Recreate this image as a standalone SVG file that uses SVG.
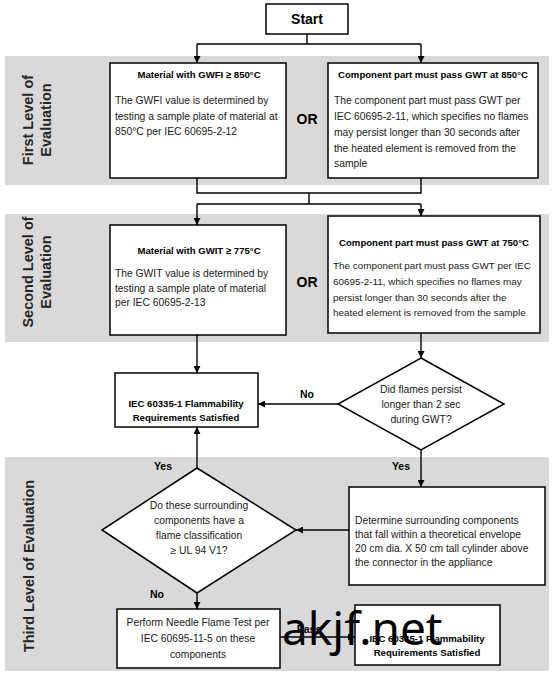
<svg xmlns="http://www.w3.org/2000/svg" width="554" height="674" viewBox="0 0 554 674">
<defs>
<marker id="ah" viewBox="0 0 10 10" refX="10" refY="5" markerWidth="7" markerHeight="7" markerUnits="userSpaceOnUse" orient="auto">
<path d="M0,0 L10,5 L0,10 z" fill="#000"/>
</marker>
<style>
.band{fill:#d9d9d9;}
.box{fill:#fff;stroke:#000;stroke-width:1.5;}
.t{font-family:"Liberation Sans",Arial,sans-serif;font-size:10.3px;fill:#1a1a1a;}
.s{font-size:9.9px;}
.b{font-family:"Liberation Sans",Arial,sans-serif;font-size:9.6px;font-weight:bold;fill:#000;}
.c{text-anchor:middle;}
.lbl{font-family:"Liberation Sans",Arial,sans-serif;font-size:14.5px;font-weight:bold;fill:#262626;text-anchor:middle;}
.or{font-family:"Liberation Sans",Arial,sans-serif;font-size:14px;font-weight:bold;fill:#000;text-anchor:middle;}
.yn{font-family:"Liberation Sans",Arial,sans-serif;font-size:10.5px;font-weight:bold;fill:#000;text-anchor:middle;}
.ln{fill:none;stroke:#000;stroke-width:1.4;}
.ar{fill:none;stroke:#000;stroke-width:1.4;marker-end:url(#ah);}
</style>
</defs>

<g id="bands">
<rect class="band" x="5" y="56" width="544" height="129"/>
<rect class="band" x="5" y="214" width="544" height="128"/>
<rect class="band" x="5" y="457" width="544" height="214"/>
<text class="lbl" transform="translate(33,120) rotate(-90)">First Level of</text>
<text class="lbl" transform="translate(51,120) rotate(-90)">Evaluation</text>
<text class="lbl" transform="translate(33,272) rotate(-90)">Second Level of</text>
<text class="lbl" transform="translate(51,272) rotate(-90)">Evaluation</text>
<text class="lbl" transform="translate(34,566) rotate(-90)">Third Level of Evaluation</text>
</g>

<g id="connectors">
<path class="ln" d="M307,33 V44 M197,44 H421"/>
<path class="ar" d="M197,44 V63"/>
<path class="ar" d="M421,44 V63"/>
<path class="ln" d="M197,178 V193 H421 V178 M309,193 V204 M197,204 H421"/>
<path class="ar" d="M197,204 V225"/>
<path class="ar" d="M421,204 V216"/>
<path class="ar" d="M197,335 V373"/>
<path class="ar" d="M421,333 V358"/>
<path class="ar" d="M338,404 H258"/>
<path class="ar" d="M421,450 V487"/>
<path class="ar" d="M349,530 H296"/>
<path class="ar" d="M197,468 V427"/>
<path class="ar" d="M197,593 V609"/>
<path class="ar" d="M280,637 H355"/>
<text class="yn" x="307" y="398">No</text>
<text class="yn" x="401" y="470">Yes</text>
<text class="yn" x="163" y="470">Yes</text>
<text class="yn" x="157" y="598">No</text>
<text class="yn" x="309" y="633">Pass</text>
</g>

<g id="start">
<rect class="box" x="266" y="4" width="82" height="30"/>
<text class="or" x="307" y="24">Start</text>
</g>

<g id="gwfi">
<rect class="box" x="110" y="63" width="176" height="115"/>
<text class="b c" x="199" y="78">Material with GWFI ≥ 850°C</text>
<text class="t" x="115" y="104">The GWFI value is determined by</text>
<text class="t" x="115" y="120">testing a sample plate of material at</text>
<text class="t" x="115" y="135">850°C per IEC 60695-2-12</text>
</g>

<text id="or1" class="or" x="307" y="124">OR</text>

<g id="gwt850">
<rect class="box" x="328" y="63" width="210" height="115"/>
<text class="b c" x="433" y="78">Component part must pass GWT at 850°C</text>
<text class="t" x="334" y="104">The component part must pass GWT per</text>
<text class="t" x="334" y="120">IEC 60695-2-11, which specifies no flames</text>
<text class="t" x="334" y="136">may persist longer than 30 seconds after</text>
<text class="t" x="334" y="152">the heated element is removed from the</text>
<text class="t" x="334" y="167">sample</text>
</g>

<g id="gwit">
<rect class="box" x="110" y="225" width="176" height="110"/>
<text class="b c" x="199" y="254">Material with GWIT ≥ 775°C</text>
<text class="t" x="115" y="277">The GWIT value is determined by</text>
<text class="t" x="115" y="292">testing a sample plate of material</text>
<text class="t" x="115" y="306">per IEC 60695-2-13</text>
</g>

<text id="or2" class="or" x="307" y="287">OR</text>

<g id="gwt750">
<rect class="box" x="328" y="216" width="212" height="117"/>
<text class="b c" x="434" y="246">Component part must pass GWT at 750°C</text>
<text class="t s" x="333" y="269">The component part must pass GWT per IEC</text>
<text class="t s" x="333" y="285">60695-2-11, which specifies no flames may</text>
<text class="t s" x="333" y="301">persist longer than 30 seconds after the</text>
<text class="t s" x="333" y="316">heated element is removed from the sample</text>
</g>

<g id="satisfied1">
<rect class="box" x="115" y="373" width="143" height="54"/>
<text class="b c" x="186" y="407">IEC 60335-1 Flammability</text>
<text class="b c" x="186" y="421">Requirements Satisfied</text>
</g>

<g id="flames">
<polygon class="box" points="421,358 504,404 421,450 338,404"/>
<text class="t c" x="421" y="393">Did flames persist</text>
<text class="t c" x="421" y="408">longer than 2 sec</text>
<text class="t c" x="421" y="423">during GWT?</text>
</g>

<g id="determine">
<rect class="box" x="349" y="487" width="196" height="98"/>
<text class="t" x="355" y="524">Determine surrounding components</text>
<text class="t" x="355" y="538">that fall within a theoretical envelope</text>
<text class="t" x="355" y="552">20 cm dia. X 50 cm tall cylinder above</text>
<text class="t" x="355" y="566">the connector in the appliance</text>
</g>

<g id="classification">
<polygon class="box" points="197,468 296,530 197,593 102,530"/>
<text class="t c" x="199" y="509">Do these surrounding</text>
<text class="t c" x="199" y="524">components have a</text>
<text class="t c" x="199" y="539">flame classification</text>
<text class="t c" x="199" y="554">≥  UL 94 V1?</text>
</g>

<g id="needle">
<rect class="box" x="117" y="609" width="163" height="59"/>
<text class="t c" x="198" y="626">Perform Needle Flame Test per</text>
<text class="t c" x="198" y="642">IEC 60695-11-5 on these</text>
<text class="t c" x="198" y="658">components</text>
</g>

<g id="satisfied2">
<rect class="box" x="355" y="605" width="145" height="60"/>
<text class="b c" x="427" y="642">IEC 60335-1 Flammability</text>
<text class="b c" x="427" y="656">Requirements Satisfied</text>
</g>

<text id="watermark" x="282" y="645" style="font-family:'Noto Sans',sans-serif;font-size:46px;fill:#000;">akjf.net</text>
</svg>
